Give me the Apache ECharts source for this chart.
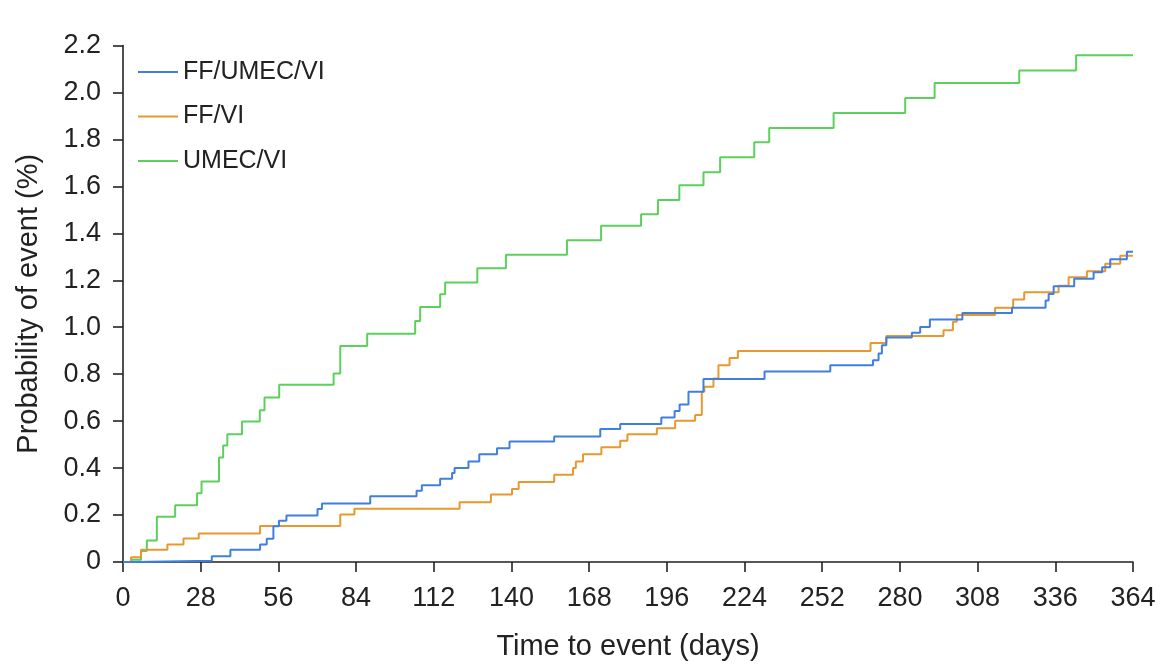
<!DOCTYPE html>
<html>
<head>
<meta charset="utf-8">
<script src="https://cdn.jsdelivr.net/npm/echarts@6/dist/echarts.min.js"></script>
<style>
html,body{margin:0;padding:0;background:#fff;}
#chart{width:1162px;height:666px;}
</style>
</head>
<body>
<div id="chart"></div>
<script>
// ---- data ----
var seriesNames = ['FF/UMEC/VI', 'FF/VI', 'UMEC/VI'];
var xTicks = [0, 28, 56, 84, 112, 140, 168, 196, 224, 252, 280, 308, 336, 364];
var yTicks = [0, 0.2, 0.4, 0.6, 0.8, 1.0, 1.2, 1.4, 1.6, 1.8, 2.0, 2.2];

// [day, cumulative probability %] step points
var ffUmecVi = [[0,0],[4,0.005],[32,0.025],[38.7,0.052],[49.4,0.075],[51.8,0.099],[54.2,0.152],[56.2,0.176],[58.9,0.198],[70.1,0.226],[71.7,0.249],[89.1,0.28],[105.8,0.303],[107.7,0.327],[114.3,0.355],[118.6,0.379],[119.5,0.40],[124.5,0.428],[128.4,0.459],[134.8,0.485],[139.3,0.513],[155.4,0.535],[172,0.566],[179.2,0.588],[194,0.616],[198.8,0.643],[200.6,0.671],[203.8,0.725],[209.2,0.779],[231.2,0.811],[254.9,0.838],[270.3,0.859],[272.3,0.888],[273.5,0.923],[275.1,0.956],[284.3,0.977],[287.3,1.001],[290.8,1.033],[302.5,1.061],[320.4,1.083],[332.5,1.114],[333.6,1.142],[335.4,1.175],[342.8,1.206],[349.8,1.234],[352.9,1.255],[355.8,1.29],[361.8,1.321],[364,1.321]];

var ffVi = [[0,0],[2.9,0.02],[6.5,0.052],[16,0.075],[21.8,0.1],[27.3,0.121],[49.4,0.153],[78.3,0.202],[83.4,0.227],[121.3,0.255],[132.6,0.287],[140.2,0.311],[142.6,0.341],[155.4,0.372],[162.2,0.40],[163.2,0.428],[165.8,0.459],[172.4,0.489],[179.2,0.516],[181.8,0.544],[192.4,0.57],[199,0.602],[206.2,0.626],[208.6,0.725],[209.5,0.746],[212.8,0.782],[214.6,0.838],[218.6,0.869],[221.6,0.899],[269.4,0.933],[275.1,0.963],[295.7,0.987],[299.1,1.023],[300.5,1.052],[314.3,1.083],[320.8,1.118],[324.8,1.149],[337.2,1.177],[340.8,1.213],[347.4,1.238],[354,1.27],[359.4,1.304],[364,1.304]];

var umecVi = [[0,0],[3,0.01],[6.5,0.047],[8.6,0.092],[12.2,0.193],[18.8,0.242],[26.7,0.293],[28.3,0.343],[34.6,0.445],[36.1,0.496],[37.6,0.544],[42.9,0.598],[49.3,0.646],[51,0.701],[56.3,0.755],[75.9,0.803],[78.3,0.92],[88,0.972],[105.3,1.027],[107.1,1.086],[114.3,1.14],[116.1,1.19],[127.7,1.251],[138,1.309],[160,1.371],[172.3,1.432],[186.7,1.481],[192.8,1.542],[200.5,1.605],[209.2,1.66],[215.2,1.724],[227.5,1.788],[232.9,1.849],[256.1,1.912],[281.9,1.976],[292.5,2.04],[323,2.093],[343.5,2.159],[364,2.159]];

var colors = ['#3f7fe0', '#e8982e', '#5bd05b'];

var chart = echarts.init(document.getElementById('chart'));
var font = "'Liberation Sans', Arial, Helvetica, sans-serif";
var axisColor = '#222';

function mkSeries(name, data, color, z) {
  return {
    name: name, type: 'line', step: 'end', data: data,
    symbol: 'none', showSymbol: false, z: z,
    lineStyle: { color: color, width: 2 },
    itemStyle: { color: color },
    animation: false
  };
}

chart.setOption({
  backgroundColor: '#fff',
  animation: false,
  color: colors,
  textStyle: { fontFamily: font },
  grid: { left: 123, right: 29, top: 45.5, bottom: 101.5, containLabel: false },
  legend: {
    data: seriesNames,
    orient: 'vertical',
    left: 133, top: 54.5,
    itemWidth: 40, itemHeight: 14,
    itemGap: 19.5, itemTextGap: 13,
    icon: 'path://M0,6L40,6L40,8L0,8Z',
    textStyle: { fontSize: 25, lineHeight: 25, color: '#222', fontFamily: font }
  },
  xAxis: {
    type: 'value', min: xTicks[0], max: xTicks[xTicks.length - 1], interval: 28,
    name: 'Time to event (days)', nameLocation: 'middle', nameGap: 70,
    nameTextStyle: { fontSize: 29, color: '#222', fontFamily: font },
    axisLine: { show: true, onZero: false, lineStyle: { color: axisColor, width: 1.6 } },
    axisTick: { show: true, inside: false, length: 10, lineStyle: { color: axisColor, width: 1.6 } },
    axisLabel: { fontSize: 27, color: '#222', margin: 23, fontFamily: font },
    splitLine: { show: false }
  },
  yAxis: {
    type: 'value', min: yTicks[0], max: yTicks[yTicks.length - 1], interval: 0.2,
    name: 'Probability of event (%)', nameLocation: 'middle', nameGap: 80,
    nameTextStyle: { fontSize: 29, color: '#222', fontFamily: font },
    axisLine: { show: true, onZero: false, lineStyle: { color: axisColor, width: 1.6 } },
    axisTick: { show: true, inside: false, length: 10, lineStyle: { color: axisColor, width: 1.6 } },
    axisLabel: {
      fontSize: 27, color: '#222', margin: 22, fontFamily: font,
      formatter: function (v) { return v === 0 ? '0' : v.toFixed(1); }
    },
    splitLine: { show: false }
  },
  series: [
    mkSeries(seriesNames[0], ffUmecVi, colors[0], 3),
    mkSeries(seriesNames[1], ffVi, colors[1], 2),
    mkSeries(seriesNames[2], umecVi, colors[2], 1)
  ]
});
</script>
</body>
</html>
